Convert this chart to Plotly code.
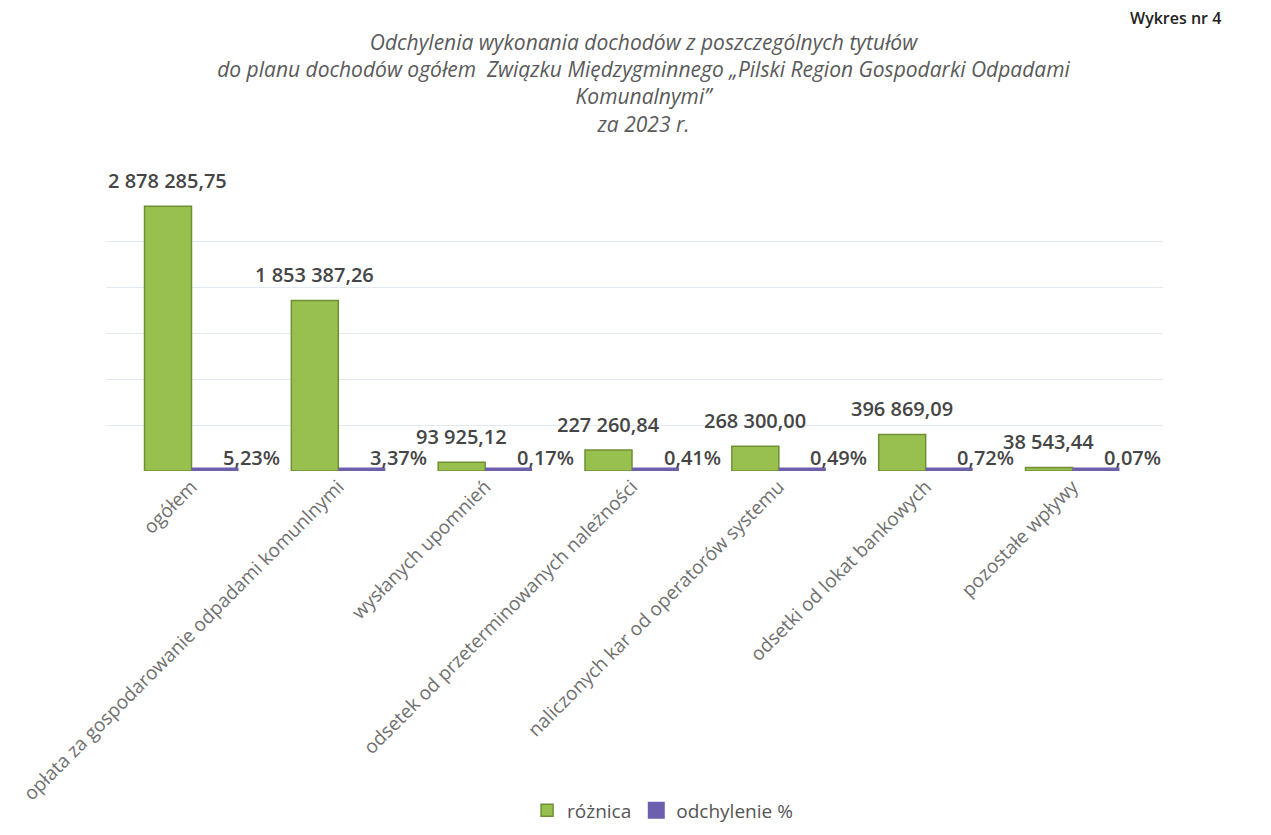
import plotly.graph_objects as go

categories = [
    "ogółem",
    "opłata za gospodarowanie odpadami komunlnymi",
    "wysłanych upomnień",
    "odsetek od przeterminowanych należności",
    "naliczonych kar od operatorów systemu",
    "odsetki od lokat bankowych",
    "pozostałe wpływy",
]
roznica = [2878285.75, 1853387.26, 93925.12, 227260.84, 268300.00, 396869.09, 38543.44]
odchylenie = [5.23, 3.37, 0.17, 0.41, 0.49, 0.72, 0.07]

GREEN = "#98C04F"
GREEN_DARK = "#6F8F34"
PURPLE = "#6E5EAE"
TXT = "#454545"
FONT = "Open Sans"


def pl_num(v):
    s = f"{v:,.2f}"
    return s.replace(",", " ").replace(".", ",")


fig = go.Figure()
fig.add_trace(go.Bar(
    name="różnica", x=categories, y=roznica,
    marker=dict(color=GREEN, line=dict(color=GREEN_DARK, width=1.5)),
    cliponaxis=False,
))
fig.add_trace(go.Bar(
    name="odchylenie %", x=categories, y=odchylenie,
    marker=dict(color=PURPLE, line=dict(color=PURPLE, width=7)),
    cliponaxis=False,
))

for c, v in zip(categories, roznica):
    fig.add_annotation(
        x=c, y=v, xref="x", yref="y", text=pl_num(v),
        showarrow=False, xshift=-24, yshift=10, yanchor="bottom",
        font=dict(family=FONT, size=20, color=TXT, weight=600),
    )

for c, v in zip(categories, odchylenie):
    fig.add_annotation(
        x=c, y=0, xref="x", yref="y", text=f"{v:.2f}%".replace(".", ","),
        showarrow=False, xshift=60, yshift=14,
        font=dict(family=FONT, size=20, color=TXT, weight=600),
    )

fig.add_annotation(
    x=1, y=1, xref="paper", yref="paper", text="Wykres nr 4",
    showarrow=False, xanchor="right", yanchor="middle", xshift=60, yshift=177,
    font=dict(family=FONT, size=16, color="#222222", weight=600),
)

fig.update_layout(
    width=1271, height=835,
    paper_bgcolor="white", plot_bgcolor="white",
    separators=", ",
    barmode="group", bargap=0.36, bargroupgap=0.0,
    margin=dict(l=98, r=116, t=187, b=372, autoexpand=False),
    title=dict(
        text="<i>Odchylenia wykonania dochodów z poszczególnych tytułów<br>"
             "do planu dochodów ogółem  Związku Międzygminnego „Pilski Region Gospodarki Odpadami<br>"
             "Komunalnymi”<br>za 2023 r.</i>",
        x=0.5, xanchor="center", xref="container",
        y=0.95, yanchor="top", yref="container",
        font=dict(family=FONT, size=21, color="#5a5a5a"),
    ),
    xaxis=dict(
        tickangle=-45, tickfont=dict(family=FONT, size=19, color="#707070"),
        showline=False, ticks="", showgrid=False, automargin=False,
    ),
    yaxis=dict(
        range=[0, 3000000], dtick=500000, showticklabels=False,
        gridcolor="#e2e9f3", gridwidth=1, zeroline=False, showline=False,
        automargin=False,
    ),
    legend=dict(
        orientation="h", xref="container", x=0.515, xanchor="center",
        y=-1.23, yanchor="middle",
        font=dict(family=FONT, size=19, color="#555555"),
        traceorder="normal",
    ),
    showlegend=True,
)

fig.write_html("out.html")
